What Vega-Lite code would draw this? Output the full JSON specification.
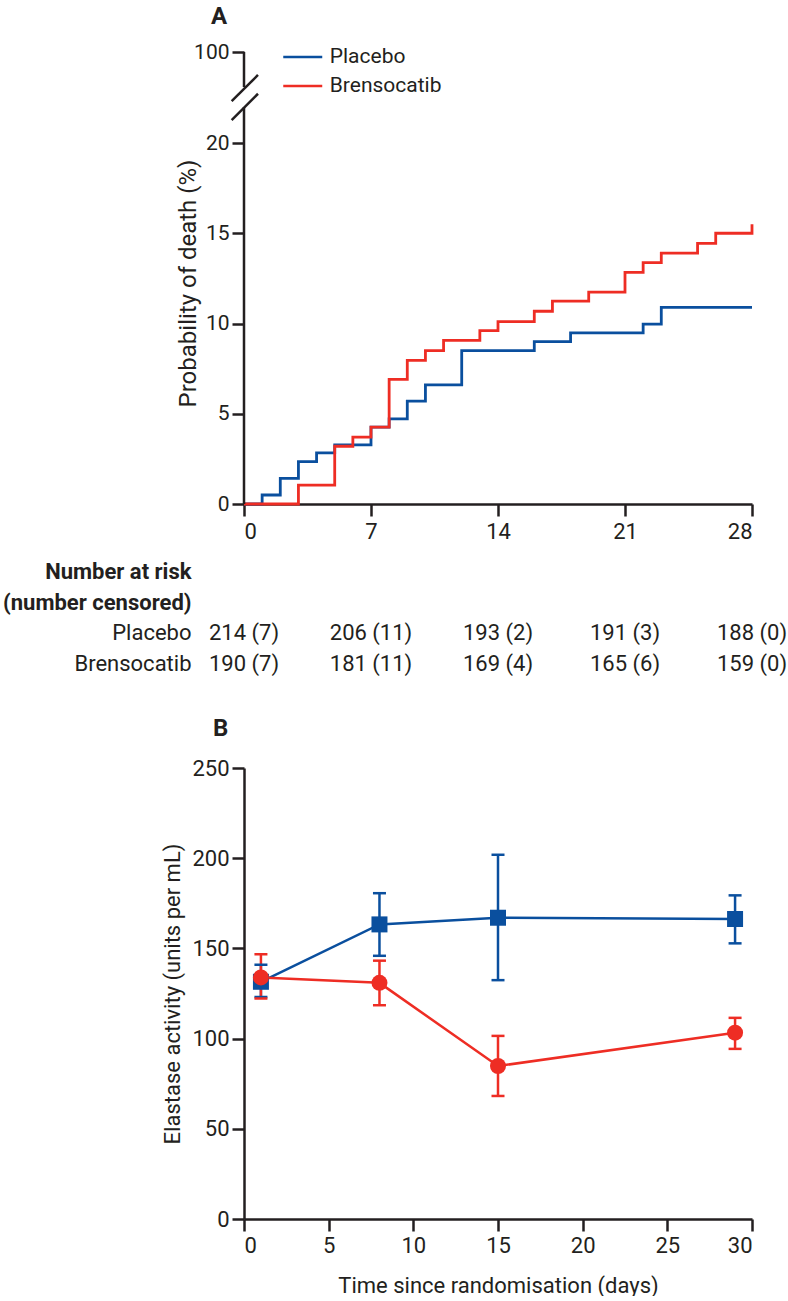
{
  "$schema": "https://vega.github.io/schema/vega-lite/v6.json",
  "padding": {"left": 2, "top": 5, "right": 0, "bottom": 0},
  "background": "white",
  "spacing": 15,
  "config": {
    "font": "Roboto",
    "view": {"stroke": null},
    "axis": {
      "domainColor": "#231f20", "domainWidth": 2.5,
      "tickColor": "#231f20", "tickWidth": 2.5, "tickSize": 12,
      "labelFont": "Roboto", "labelColor": "#231f20", "labelFontSize": 21,
      "titleFont": "Roboto", "titleColor": "#231f20", "titleFontWeight": "normal", "titleFontSize": 22,
      "grid": false
    },
    "title": {"font": "Roboto", "fontSize": 24, "fontWeight": "bold", "color": "#231f20", "anchor": "start", "frame": "group"}
  },
  "datasets": {
    "km": [
      {"group": "Placebo", "day": 0, "p": 0},
      {"group": "Placebo", "day": 1, "p": 0.5},
      {"group": "Placebo", "day": 2, "p": 1.42},
      {"group": "Placebo", "day": 3, "p": 2.35},
      {"group": "Placebo", "day": 4, "p": 2.83},
      {"group": "Placebo", "day": 5, "p": 3.28},
      {"group": "Placebo", "day": 7, "p": 4.26},
      {"group": "Placebo", "day": 8, "p": 4.72},
      {"group": "Placebo", "day": 9, "p": 5.7},
      {"group": "Placebo", "day": 10, "p": 6.6},
      {"group": "Placebo", "day": 12, "p": 8.5},
      {"group": "Placebo", "day": 16, "p": 9.0},
      {"group": "Placebo", "day": 18, "p": 9.48},
      {"group": "Placebo", "day": 22, "p": 9.96},
      {"group": "Placebo", "day": 23, "p": 10.89},
      {"group": "Placebo", "day": 28, "p": 10.89},
      {"group": "Brensocatib", "day": 0, "p": 0},
      {"group": "Brensocatib", "day": 3, "p": 1.05},
      {"group": "Brensocatib", "day": 5, "p": 3.2},
      {"group": "Brensocatib", "day": 6, "p": 3.7},
      {"group": "Brensocatib", "day": 7, "p": 4.26},
      {"group": "Brensocatib", "day": 8, "p": 6.9},
      {"group": "Brensocatib", "day": 9, "p": 7.96},
      {"group": "Brensocatib", "day": 10, "p": 8.5},
      {"group": "Brensocatib", "day": 11, "p": 9.07},
      {"group": "Brensocatib", "day": 13, "p": 9.6},
      {"group": "Brensocatib", "day": 14, "p": 10.1},
      {"group": "Brensocatib", "day": 16, "p": 10.68},
      {"group": "Brensocatib", "day": 17, "p": 11.24},
      {"group": "Brensocatib", "day": 19, "p": 11.74},
      {"group": "Brensocatib", "day": 21, "p": 12.83},
      {"group": "Brensocatib", "day": 22, "p": 13.37},
      {"group": "Brensocatib", "day": 23, "p": 13.9},
      {"group": "Brensocatib", "day": 25, "p": 14.44},
      {"group": "Brensocatib", "day": 26, "p": 15.0},
      {"group": "Brensocatib", "day": 28, "p": 15.5}
    ],
    "axisSegments": [
      {"x": 0, "y": 0, "y2": 51.6},
      {"x": 0, "y": 69.2, "y2": 100}
    ],
    "axisBreak": [
      {"x": -0.68, "x2": 0.77, "y": 56.9, "y2": 79.8},
      {"x": -0.68, "x2": 0.77, "y": 40.2, "y2": 63.3}
    ],
    "risk": [
      {"row": "Placebo", "day": 0, "label": "214 (7)"},
      {"row": "Placebo", "day": 7, "label": "206 (11)"},
      {"row": "Placebo", "day": 14, "label": "193 (2)"},
      {"row": "Placebo", "day": 21, "label": "191 (3)"},
      {"row": "Placebo", "day": 28, "label": "188 (0)"},
      {"row": "Brensocatib", "day": 0, "label": "190 (7)"},
      {"row": "Brensocatib", "day": 7, "label": "181 (11)"},
      {"row": "Brensocatib", "day": 14, "label": "169 (4)"},
      {"row": "Brensocatib", "day": 21, "label": "165 (6)"},
      {"row": "Brensocatib", "day": 28, "label": "159 (0)"}
    ],
    "elastase": [
      {"group": "Placebo", "day": 1, "mean": 131.5, "lo": 123, "hi": 141},
      {"group": "Placebo", "day": 8, "mean": 163.3, "lo": 145.9, "hi": 180.6},
      {"group": "Placebo", "day": 15, "mean": 167, "lo": 132.4, "hi": 201.9},
      {"group": "Placebo", "day": 29, "mean": 166.3, "lo": 152.8, "hi": 179.4},
      {"group": "Brensocatib", "day": 1, "mean": 133.9, "lo": 122.2, "hi": 146.7},
      {"group": "Brensocatib", "day": 8, "mean": 130.9, "lo": 118.5, "hi": 143.2},
      {"group": "Brensocatib", "day": 15, "mean": 84.8, "lo": 68.2, "hi": 101.5},
      {"group": "Brensocatib", "day": 29, "mean": 103.3, "lo": 94.3, "hi": 111.5}
    ]
  },
  "resolve": {"scale": {"x": "independent", "y": "independent", "color": "independent"}},
  "vconcat": [
    {
      "width": 508,
      "height": 452,
      "title": {"text": "A", "dx": -33, "offset": 12},
      "layer": [
        {
          "data": {"name": "km"},
          "mark": {"type": "line", "interpolate": "step-after", "strokeWidth": 2.8},
          "encoding": {
            "x": {"field": "day", "type": "quantitative",
                  "scale": {"domain": [0, 28], "nice": false, "zero": false},
                  "axis": {"title": null, "values": [0, 7, 14, 21, 28], "labelFontSize": 22, "labelPadding": 5}},
            "y": {"field": "p", "type": "quantitative",
                  "scale": {"domain": [0, 20, 100], "range": [452, 91, 0]},
                  "axis": {"title": "Probability of death (%)", "values": [0, 5, 10, 15, 20, 100], "domain": false,
                           "labelPadding": 3, "titleFontSize": 24, "titleX": -44, "titleY": 231}},
            "color": {"field": "group", "type": "nominal",
                      "scale": {"domain": ["Placebo", "Brensocatib"], "range": ["#0a4f9e", "#ee2d24"]},
                      "legend": {"orient": "none", "legendX": 47.75, "legendY": -6, "title": null,
                                 "symbolType": "M-2,0L2,0", "symbolSize": 380, "symbolStrokeWidth": 2.5,
                                 "labelFont": "Roboto", "labelFontSize": 21, "labelColor": "#231f20",
                                 "labelOffset": 16, "rowPadding": 8, "labelLimit": 0}}
          }
        },
        {
          "data": {"name": "axisSegments"},
          "mark": {"type": "rule", "color": "#231f20", "strokeWidth": 2.5},
          "encoding": {
            "x": {"field": "x", "type": "quantitative", "title": null},
            "y": {"field": "y", "type": "quantitative", "title": "Probability of death (%)"},
            "y2": {"field": "y2"}
          }
        },
        {
          "data": {"name": "axisBreak"},
          "mark": {"type": "rule", "color": "#231f20", "strokeWidth": 2.5},
          "encoding": {
            "x": {"field": "x", "type": "quantitative", "title": null},
            "x2": {"field": "x2"},
            "y": {"field": "y", "type": "quantitative", "title": "Probability of death (%)"},
            "y2": {"field": "y2"}
          }
        }
      ]
    },
    {
      "width": 508,
      "height": 145,
      "data": {"name": "risk"},
      "mark": {"type": "text", "font": "Roboto", "fontSize": 22, "color": "#231f20"},
      "encoding": {
        "x": {"field": "day", "type": "quantitative", "scale": {"domain": [0, 28], "nice": false, "zero": false}, "axis": null},
        "y": {"field": "row", "type": "nominal",
              "scale": {"type": "point", "padding": 0, "domain": ["Number at risk", "(number censored)", "Placebo", "Brensocatib"], "range": [14.5, 106.5]},
              "axis": {"title": null, "domain": false, "ticks": false, "labelPadding": 53, "labelFontSize": 22, "labelLimit": 0,
                       "labelFontWeight": {"condition": {"test": "datum.value === 'Number at risk' || datum.value === '(number censored)'", "value": "bold"}, "value": "normal"}}},
        "text": {"field": "label"}
      }
    },
    {
      "width": 508,
      "height": 451,
      "title": {"text": "B", "dx": -31, "offset": 16},
      "data": {"name": "elastase"},
      "encoding": {
        "x": {"field": "day", "type": "quantitative",
              "scale": {"domain": [0, 30], "nice": false, "zero": false},
              "axis": {"title": "Time since randomisation (days)", "values": [0, 5, 10, 15, 20, 25, 30], "labelFontSize": 22, "labelPadding": 4, "titlePadding": 19, "titleFontSize": 22}},
        "color": {"field": "group", "type": "nominal",
                  "scale": {"domain": ["Placebo", "Brensocatib"], "range": ["#0a4f9e", "#ee2d24"]},
                  "legend": null}
      },
      "layer": [
        {
          "mark": {"type": "rule", "strokeWidth": 2.5},
          "encoding": {
            "y": {"field": "lo", "type": "quantitative",
                  "scale": {"domain": [0, 250], "nice": false},
                  "axis": {"title": "Elastase activity (units per mL)", "values": [0, 50, 100, 150, 200, 250], "labelFontSize": 22, "labelPadding": 3, "titleFontSize": 22, "titleX": -60}},
            "y2": {"field": "hi"}
          }
        },
        {
          "mark": {"type": "tick", "orient": "horizontal", "size": 13, "thickness": 2.5, "opacity": 1},
          "encoding": {"y": {"field": "lo", "type": "quantitative", "title": "Elastase activity (units per mL)"}}
        },
        {
          "mark": {"type": "tick", "orient": "horizontal", "size": 13, "thickness": 2.5, "opacity": 1},
          "encoding": {"y": {"field": "hi", "type": "quantitative", "title": "Elastase activity (units per mL)"}}
        },
        {
          "mark": {"type": "line", "strokeWidth": 2.5},
          "encoding": {"y": {"field": "mean", "type": "quantitative", "title": "Elastase activity (units per mL)"}}
        },
        {
          "mark": {"type": "point", "filled": true, "size": 256, "opacity": 1, "strokeWidth": 0},
          "encoding": {
            "y": {"field": "mean", "type": "quantitative", "title": "Elastase activity (units per mL)"},
            "shape": {"field": "group", "type": "nominal",
                      "scale": {"domain": ["Placebo", "Brensocatib"], "range": ["square", "circle"]},
                      "legend": null}
          }
        }
      ]
    }
  ]
}
